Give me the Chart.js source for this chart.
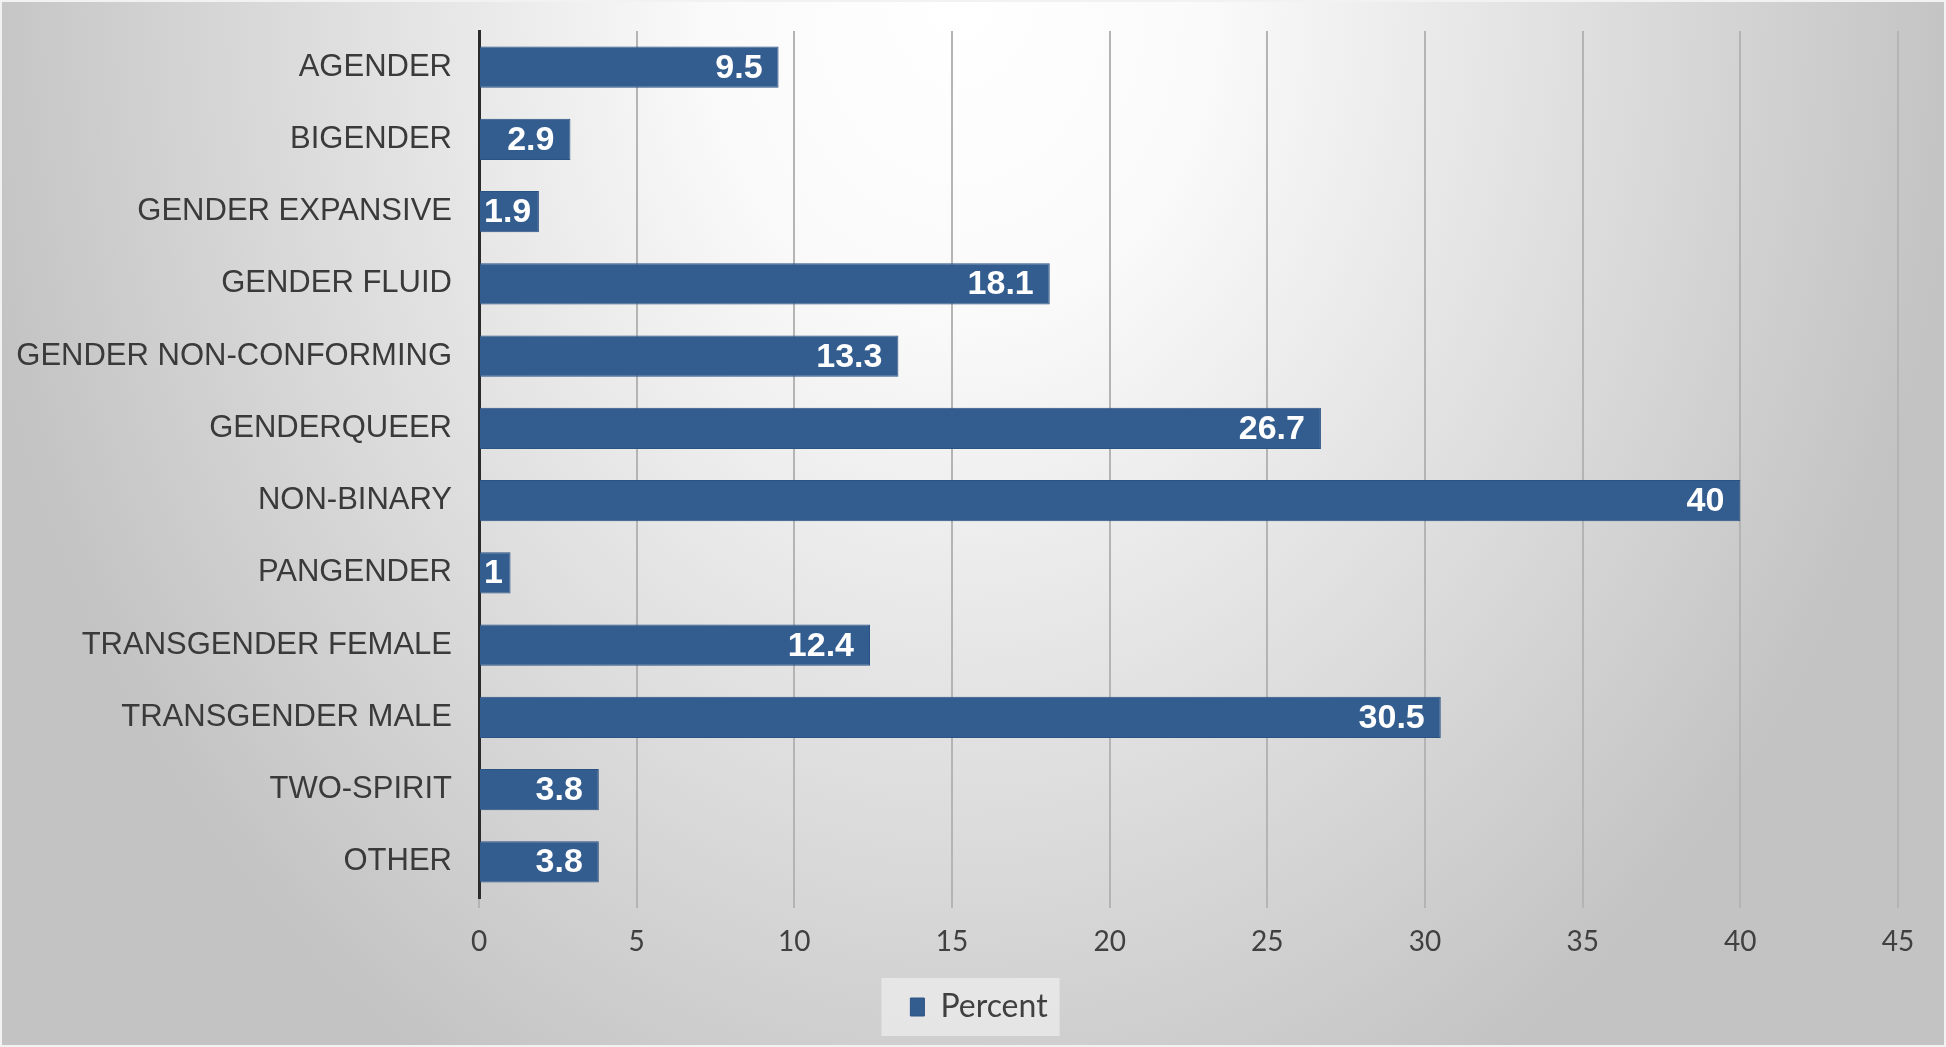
<!DOCTYPE html>
<html>
<head>
<meta charset="utf-8">
<script src="https://cdn.jsdelivr.net/npm/chart.js@4.4.1/dist/chart.umd.min.js"></script>
<style>
  html, body { margin: 0; padding: 0; }
  #wrap {
    position: relative;
    width: 1946px;
    height: 1047px;
    background: radial-gradient(ellipse 1000px 1250px at 960px 0px, #ffffff 0%, #fafafa 25%, #c3c3c3 100%);
    box-shadow: inset 0 0 0 2px #f2f2f2;
  }
</style>
</head>
<body>
<div id="wrap"><canvas id="barChart"></canvas></div>
<script>
// 카테고리와 값
var categories = ["AGENDER", "BIGENDER", "GENDER EXPANSIVE", "GENDER FLUID", "GENDER NON-CONFORMING",
  "GENDERQUEER", "NON-BINARY", "PANGENDER", "TRANSGENDER FEMALE", "TRANSGENDER MALE", "TWO-SPIRIT", "OTHER"];
var percentValues = [9.5, 2.9, 1.9, 18.1, 13.3, 26.7, 40, 1, 12.4, 30.5, 3.8, 3.8];
var xTicks = [0, 5, 10, 15, 20, 25, 30, 35, 40, 45];

var barColor = "#345d8f";

// 막대 안쪽 끝에 값 표시
var valueLabels = {
  id: "valueLabels",
  afterDatasetsDraw: function(chart){
    var ctx = chart.ctx;
    var meta = chart.getDatasetMeta(0);
    var base = chart.scales.x.getPixelForValue(0);
    ctx.save();
    ctx.font = "bold 34px 'Liberation Sans', Arial, sans-serif";
    ctx.fillStyle = "#ffffff";
    ctx.textAlign = "right";
    ctx.textBaseline = "middle";
    for(var i = 0; i < meta.data.length; i++){
      var bar = meta.data[i];
      var txt = String(percentValues[i]);
      var w = ctx.measureText(txt).width;
      var right = Math.max(bar.x - 16, base + 5 + w);
      ctx.fillText(txt, right, bar.y + 1);
    }
    ctx.restore();
  }
};

// 범례 위치 보정 + 배경 상자
var legendBox = {
  id: "legendBox",
  afterLayout: function(chart){
    var lg = chart.legend;
    if(!lg) return;
    lg.left += 30;
    lg.right += 30;
  },
  beforeDraw: function(chart){
    var lg = chart.legend;
    if(!lg || !lg.legendHitBoxes || !lg.legendHitBoxes.length) return;
    var hb = lg.legendHitBoxes[0];
    var cy = hb.top + hb.height / 2;
    var ctx = chart.ctx;
    ctx.save();
    ctx.fillStyle = "rgba(236,236,236,0.75)";
    ctx.fillRect(hb.left - 29, cy - 29, hb.width + 41, 58);
    ctx.restore();
  }
};

Chart.defaults.font.family = "Lato, 'Open Sans', sans-serif";
Chart.defaults.color = "#404040";

var chartjs = new Chart(document.getElementById("barChart"), {
  type: "bar",
  data: {
    labels: categories,
    datasets: [{
      label: "Percent",
      data: percentValues,
      backgroundColor: barColor,
      borderColor: "#2c5283",
      borderWidth: 1,
      categoryPercentage: 1,
      barPercentage: 0.57
    }]
  },
  options: {
    indexAxis: "y",
    responsive: true,
    maintainAspectRatio: false,
    animation: false,
    layout: { padding: { left: 0, right: 48, top: 31, bottom: 14 } },
    plugins: {
      legend: {
        position: "bottom",
        labels: {
          font: { size: 32 },
          color: "#404040",
          boxWidth: 14,
          boxHeight: 18,
          padding: 12
        }
      },
      tooltip: { enabled: false }
    },
    scales: {
      x: {
        min: 0,
        max: 45,
        afterBuildTicks: function(scale){
          scale.ticks = xTicks.map(function(v){ return { value: v }; });
        },
        afterFit: function(scale){ scale.height = 81; },
        grid: {
          color: "#b4b4b4",
          lineWidth: 2,
          tickLength: 10,
          drawOnChartArea: true
        },
        border: { display: false },
        ticks: {
          font: { size: 28 },
          color: "#404040",
          padding: 17
        }
      },
      y: {
        afterFit: function(scale){
          scale.width = 479;
          scale.paddingTop = 0;
          scale.paddingBottom = 0;
        },
        grid: { drawOnChartArea: false, drawTicks: false },
        border: { color: "#2b2b2b", width: 3 },
        ticks: {
          font: { size: 31, family: "'Liberation Sans', Arial, sans-serif" },
          color: "#3a3a3a",
          padding: 27
        }
      }
    }
  },
  plugins: [legendBox, valueLabels]
});
</script>
</body>
</html>
